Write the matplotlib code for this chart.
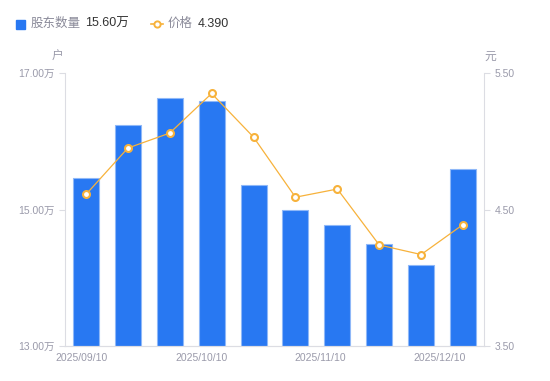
import numpy as np
import matplotlib
matplotlib.use("Agg")
import matplotlib.pyplot as plt

plt.rcParams['font.family'] = ['Liberation Sans', 'Noto Sans CJK SC', 'DejaVu Sans']

dates = ["2025/09/10", "2025/09/19", "2025/09/30", "2025/10/10", "2025/10/20",
         "2025/10/31", "2025/11/10", "2025/11/20", "2025/11/28", "2025/12/10"]
holders = [15.46, 16.24, 16.63, 16.59, 15.36, 14.99, 14.77, 14.49, 14.19, 15.60]  # 万户
price = [4.61, 4.95, 5.06, 5.35, 5.03, 4.59, 4.65, 4.24, 4.17, 4.39]
tick_labels = ["2025/09/10", "2025/10/10", "2025/11/10", "2025/12/10"]

blue = "#2878f2"
orange = "#f7b23b"
gray = "#9a9aaa"
spine = "#dcdde3"

fig = plt.figure(figsize=(5.5, 3.81), dpi=100)
ax = fig.add_axes([65 / 550, 1 - 346 / 381, 419 / 550, 273 / 381])
x = np.arange(len(dates))

ax.bar(x, holders, width=0.62, color=blue, edgecolor="#8fb8f8", linewidth=0.8, zorder=2)
ax.set_ylim(13, 17)
ax.set_xlim(-0.5, len(dates) - 0.5)
ax.set_yticks([13, 15, 17])
ax.set_yticklabels(["13.00万", "15.00万", "17.00万"])

ax2 = ax.twinx()
ax2.plot(x, price, color=orange, lw=0.9, marker="o", ms=5, mfc="white",
         mec=orange, mew=1.5, zorder=3)
ax2.set_ylim(3.5, 5.5)
ax2.set_yticks([3.5, 4.5, 5.5])
ax2.set_yticklabels(["3.50", "4.50", "5.50"])

# date labels sit evenly spaced, not on bars
ax.set_xticks(np.linspace(-0.094, 8.45, 4))
ax.set_xticklabels(tick_labels)

for a in (ax, ax2):
    for s in a.spines.values():
        s.set_color(spine)
    a.spines["top"].set_visible(False)
    a.tick_params(colors=spine, labelcolor=gray, labelsize=7.5, length=4, width=0.8)
ax.tick_params(axis="x", length=0, pad=5)
ax.spines["right"].set_visible(False)
ax2.spines["left"].set_visible(False)

fig.text(57 / 550, 1 - 57 / 381, "户", color=gray, fontsize=8.5, ha="center", va="center")
fig.text(490 / 550, 1 - 57 / 381, "元", color=gray, fontsize=8.5, ha="center", va="center")

# legend
ly = 1 - 24 / 381
fig.patches.append(plt.Rectangle((16 / 550, 1 - 29 / 381), 9 / 550, 9 / 381,
                                 transform=fig.transFigure, color=blue, figure=fig))
fig.text(31 / 550, ly, "股东数量", color="#8a8a99", fontsize=9, va="center")
fig.text(85 / 550, ly, "15.60万", color="#333333", fontsize=9, va="center")
fig.lines.append(plt.Line2D([151 / 550, 163 / 550], [ly, ly], transform=fig.transFigure,
                            color=orange, lw=1.2, figure=fig))
fig.lines.append(plt.Line2D([157 / 550], [ly], transform=fig.transFigure, color=orange,
                            marker="o", ms=4.5, mfc="white", mec=orange, mew=1.4, figure=fig))
fig.text(168 / 550, ly, "价格", color="#8a8a99", fontsize=9, va="center")
fig.text(198 / 550, ly, "4.390", color="#333333", fontsize=9, va="center")

fig.savefig("out.png", dpi=100)
